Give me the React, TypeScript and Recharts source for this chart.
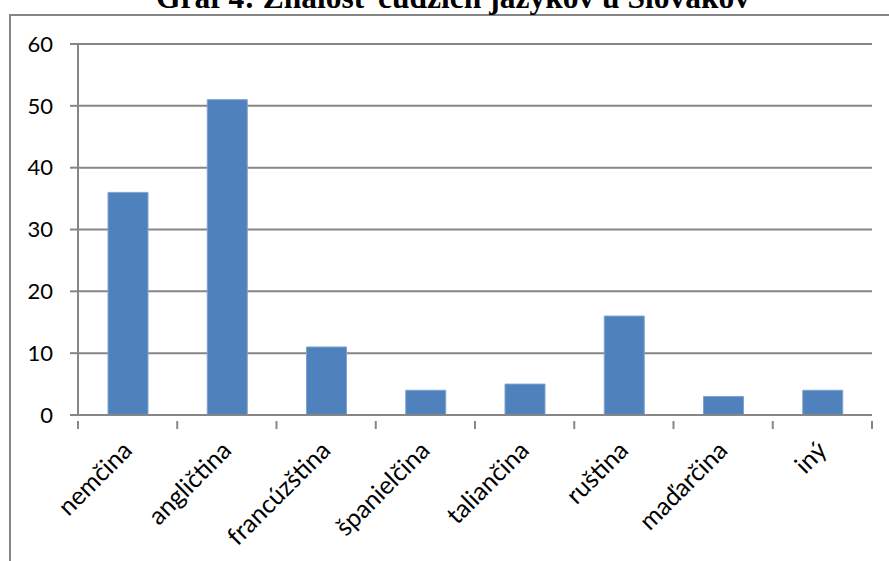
import React from 'react';
import { BarChart, Bar, XAxis, YAxis, CartesianGrid } from 'recharts';

const languages = ['nemčina', 'angličtina', 'francúzština', 'španielčina', 'taliančina', 'ruština', 'maďarčina', 'iný'];
const speakers = [36, 51, 11, 4, 5, 16, 3, 4];
const yTicks = [0, 10, 20, 30, 40, 50, 60];
const chartTitle = 'Graf 4: Znalosť cudzích jazykov u Slovákov';

const data = languages.map((name, i) => ({ name, value: speakers[i] }));

const W = 889;
const H = 561;
const margin = { top: 44, right: 17, bottom: 0, left: 0 };
const yAxisWidth = 78;
const xAxisHeight = H - 415;
const band = (W - margin.right - yAxisWidth) / languages.length;

const grey = '#868686';
const labelFont = 'Lato, "Open Sans", sans-serif';

const CategoryTick = (props: any) => {
  const { x, y, payload, index } = props;
  const left = x - band / 2;
  const right = x + band / 2;
  const ax = x + 6;
  const ay = y + 29;
  return (
    <g>
      <line x1={left} y1={y - 2} x2={left} y2={y + 6} stroke={grey} strokeWidth={2} />
      {index === languages.length - 1 && (
        <line x1={right} y1={y - 2} x2={right} y2={y + 6} stroke={grey} strokeWidth={2} />
      )}
      <text
        x={ax}
        y={ay}
        textAnchor="end"
        transform={`rotate(-45, ${ax}, ${ay})`}
        fontFamily={labelFont}
        fontSize={25}
        fill="#000"
      >
        {payload.value}
      </text>
    </g>
  );
};

export default function App() {
  return (
    <div style={{ position: 'fixed', left: 0, top: 0, width: W, height: H, background: '#fff', overflow: 'hidden' }}>
      <div
        style={{
          position: 'absolute',
          left: 9,
          top: 14,
          width: W,
          height: H,
          borderLeft: `2px solid ${grey}`,
          borderTop: `2px solid ${grey}`,
        }}
      />
      <div
        style={{
          position: 'absolute',
          left: 0,
          width: 906,
          top: -21,
          textAlign: 'center',
          fontFamily: '"Liberation Serif", "Times New Roman", serif',
          fontWeight: 'bold',
          fontSize: 31.5,
          lineHeight: '38px',
          whiteSpace: 'nowrap',
        }}
      >
        {chartTitle}
      </div>
      <div style={{ position: 'absolute', left: 0, top: 0 }}>
        <BarChart width={W} height={H} data={data} margin={margin} barSize={40}>
          <CartesianGrid vertical={false} stroke={grey} strokeWidth={2} />
          <XAxis
            dataKey="name"
            height={xAxisHeight}
            axisLine={{ stroke: grey, strokeWidth: 2 }}
            tickLine={false}
            tick={<CategoryTick />}
            interval={0}
          />
          <YAxis
            width={yAxisWidth}
            domain={[0, 60]}
            ticks={yTicks}
            axisLine={{ stroke: grey, strokeWidth: 2 }}
            tickLine={{ stroke: grey, strokeWidth: 2 }}
            tickSize={8}
            tickMargin={17}
            tick={{ fill: '#000', fontSize: 22, fontFamily: labelFont }}
          />
          <Bar dataKey="value" fill="#4F81BD" stroke="#7FA3D0" strokeWidth={1} isAnimationActive={false} />
        </BarChart>
      </div>
    </div>
  );
}
